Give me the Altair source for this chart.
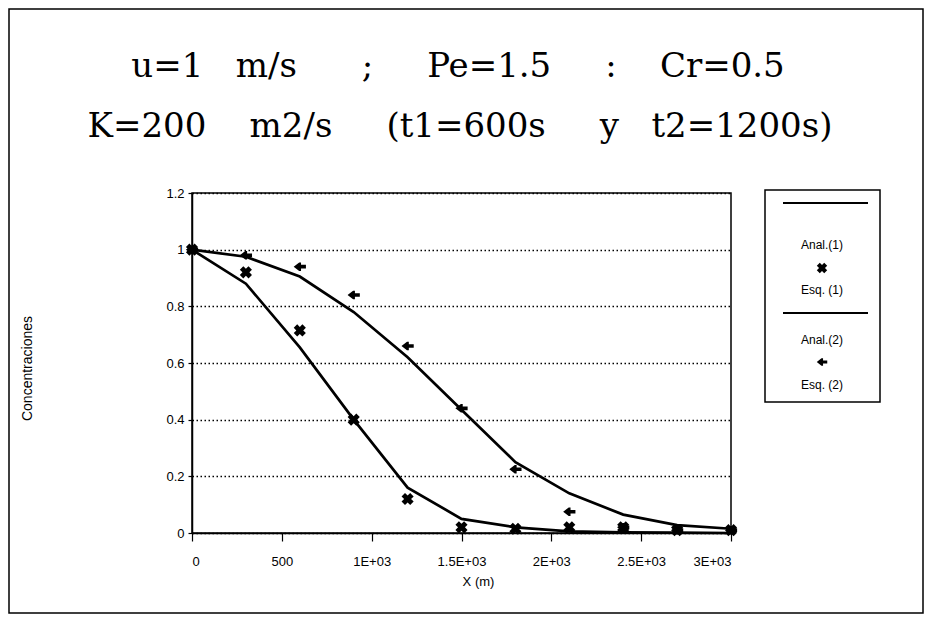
import altair as alt
import pandas as pd

NB = "\u00a0"
title_parts_1 = ["u=1", "m/s", ";", "Pe=1.5", ":", "Cr=0.5"]
title_parts_2 = ["K=200", "m2/s", "(t1=600s", "y", "t2=1200s)"]
x_m = [0, 300, 600, 900, 1200, 1500, 1800, 2100, 2400, 2700, 3000]
anal1 = [1.0, 0.88, 0.655, 0.40, 0.16, 0.05, 0.02, 0.006, 0.002, 0.001, 0.0]
anal2 = [1.0, 0.975, 0.905, 0.78, 0.62, 0.435, 0.25, 0.14, 0.065, 0.028, 0.015]
esq1 = [1.0, 0.92, 0.715, 0.40, 0.12, 0.02, 0.015, 0.02, 0.02, 0.01, 0.01]
esq2 = [1.0, 0.98, 0.94, 0.84, 0.66, 0.44, 0.225, 0.075, 0.02, 0.01, 0.01]
x_ticks = [0, 500, 1000, 1500, 2000, 2500, 3000]
x_tick_labels = ["0", "500", "1E+03", "1.5E+03", "2E+03", "2.5E+03", "3E+03"]
y_ticks = [0, 0.2, 0.4, 0.6, 0.8, 1.0, 1.2]
y_tick_labels = ["0", "0.2", "0.4", "0.6", "0.8", "1", "1.2"]
legend_labels = ["Anal.(1)", "Esq. (1)", "Anal.(2)", "Esq. (2)"]
x_title = "X  (m)"
y_title = "Concentraciones"


def join_spaced(parts, gaps):
    out = parts[0]
    for p, g in zip(parts[1:], gaps):
        out += NB * g + p
    return out


title_lines = [join_spaced(title_parts_1, [3, 6, 5, 5, 4]),
               join_spaced(title_parts_2, [4, 5, 5, 3])]

lines_df = pd.DataFrame({
    "x": x_m * 2,
    "y": anal1 + anal2,
    "serie": ["Anal.(1)"] * len(x_m) + ["Anal.(2)"] * len(x_m),
})
esq1_df = pd.DataFrame({"x": x_m, "y": esq1})
esq2_df = pd.DataFrame({"x": x_m, "y": esq2})
one = pd.DataFrame({"k": [0]})

AXIS_FONT = "Liberation Sans"
ARROW = "M-1,0L-0.1,-0.7L0.2,-0.7L0.2,-0.3L1,-0.3L1,0.3L0.2,0.3L0.2,0.7L-0.1,0.7Z"

xs = alt.Scale(domain=[0, 3000], nice=False, zero=False)
ys = alt.Scale(domain=[0, 1.2], nice=False)

x_label_expr = "[" + ",".join(f"'{l}'" for l in x_tick_labels) + "][round(datum.value/500)]"
y_label_expr = "[" + ",".join(f"'{l}'" for l in y_tick_labels) + "][round(datum.value/0.2)]"

x_enc = alt.X("x:Q", scale=xs, title=x_title,
              axis=alt.Axis(values=x_ticks, labelExpr=x_label_expr, grid=False,
                            tickSize=8, labelPadding=14, titlePadding=7,
                            titleX=286, labelFont=AXIS_FONT, labelFontSize=13,
                            labelColor="black", titleFont=AXIS_FONT, titleFontSize=13,
                            titleFontWeight="normal", titleColor="black",
                            domainColor="black", domainWidth=1.5,
                            tickColor="black", tickWidth=1.2))
y_enc = alt.Y("y:Q", scale=ys, title=y_title,
              axis=alt.Axis(values=y_ticks, labelExpr=y_label_expr, grid=True,
                            gridDash=[1.5, 2.5], gridColor="black", gridWidth=1.3,
                            tickSize=4, labelPadding=4, titleX=-158, titleY=175,
                            labelFont=AXIS_FONT, labelFontSize=13, labelColor="black",
                            titleFont=AXIS_FONT, titleFontSize=14,
                            titleFontWeight="normal", titleColor="black",
                            domainColor="black", domainWidth=1.5,
                            tickColor="black", tickWidth=1.2))

lines = alt.Chart(lines_df).mark_line(color="black", strokeWidth=2.7).encode(
    x=x_enc, y=y_enc, detail="serie:N")

pts1 = alt.Chart(esq1_df).mark_point(shape="cross", angle=45, filled=True,
                                     color="black", size=150, opacity=1).encode(
    x=alt.X("x:Q", scale=xs), y=alt.Y("y:Q", scale=ys))
pts2 = alt.Chart(esq2_df).mark_point(shape=ARROW, filled=True,
                                     color="black", size=150, opacity=1).encode(
    x=alt.X("x:Q", scale=xs), y=alt.Y("y:Q", scale=ys))

# title as two text lines
title_marks = []
for line, xx, yy in zip(title_lines, [266, 268], [-116, -56]):
    title_marks.append(alt.Chart(one).mark_text(font="DejaVu Serif", fontSize=34,
                                                color="black", align="center",
                                                baseline="alphabetic").encode(
        x=alt.value(xx), y=alt.value(yy), text=alt.value(line)))

# legend box
leg_box = alt.Chart(one).mark_rect(filled=False, stroke="black", strokeWidth=1.5).encode(
    x=alt.value(573), x2=alt.value(688), y=alt.value(-3), y2=alt.value(209))
leg_line1 = alt.Chart(one).mark_rule(color="black", strokeWidth=2).encode(
    x=alt.value(591), x2=alt.value(676), y=alt.value(10))
leg_line2 = alt.Chart(one).mark_rule(color="black", strokeWidth=2).encode(
    x=alt.value(591), x2=alt.value(676), y=alt.value(120))
leg_texts = []
for lab, yy in zip(legend_labels, [52, 97, 147, 192]):
    leg_texts.append(alt.Chart(one).mark_text(font=AXIS_FONT, fontSize=12, color="black",
                                              align="center", baseline="middle").encode(
        x=alt.value(630), y=alt.value(yy), text=alt.value(lab)))
leg_m1 = alt.Chart(one).mark_point(shape="cross", angle=45, filled=True, color="black",
                                   size=110, opacity=1).encode(x=alt.value(630), y=alt.value(75))
leg_m2 = alt.Chart(one).mark_point(shape=ARROW, filled=True, color="black",
                                   size=110, opacity=1).encode(x=alt.value(630), y=alt.value(169))

border = alt.Chart(one).mark_rect(filled=False, stroke="black", strokeWidth=1.5).encode(
    x=alt.value(-183), x2=alt.value(731), y=alt.value(-184), y2=alt.value(420))

chart = alt.layer(lines, pts1, pts2, *title_marks, leg_box, leg_line1, leg_line2,
                  *leg_texts, leg_m1, leg_m2, border).properties(
    width=539, height=340,
    autosize=alt.AutoSizeParams(type="none"),
    padding={"left": 184, "top": 185, "right": 193, "bottom": 81},
    background="white",
).configure_view(stroke="black", strokeWidth=1.5)

chart.save("out.html", embed_options={"renderer": "svg", "actions": False})
